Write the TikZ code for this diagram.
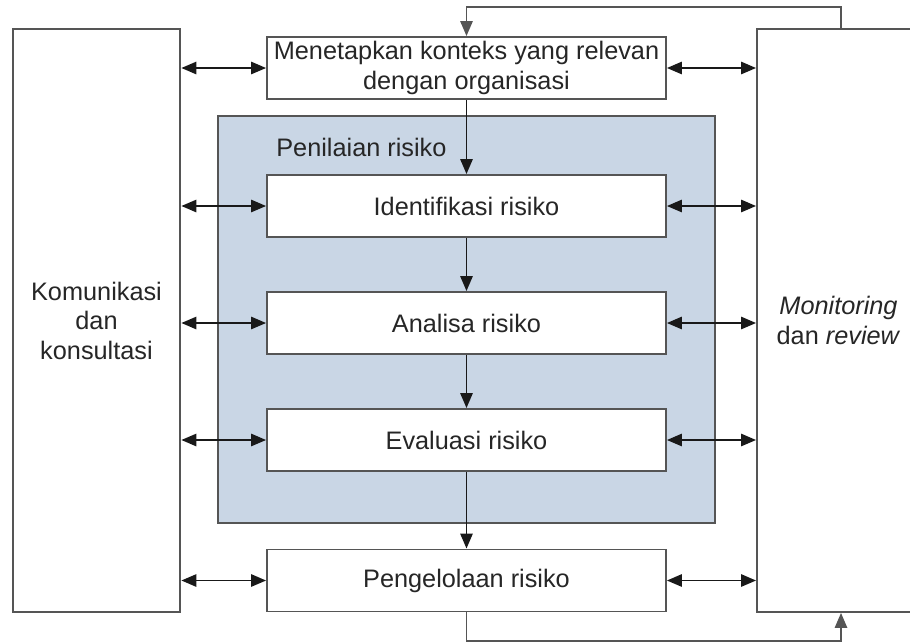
\documentclass[tikz,border=0pt]{standalone}
\usepackage{fontspec}
\setmainfont{Liberation Sans}
\usetikzlibrary{arrows.meta}
\usetikzlibrary{positioning}
\usepackage{xcolor}

\definecolor{areablue}{RGB}{201,214,229}
\definecolor{edgegray}{RGB}{85,85,85}

\begin{document}
\begin{tikzpicture}[x=0.02cm, y=-0.02cm,
    box/.style={draw=edgegray, line width=1.1pt, fill=white, inner sep=0pt,
        align=center, text=black!85, font=\fontsize{14.4}{16.8}\selectfont},
    stage/.style={box, minimum width=7.98cm, minimum height=1.24cm},
    side/.style={box, minimum height=11.66cm},
    flow/.style={-{Triangle[length=8.5pt, width=7pt]}, line width=1pt, black!90},
    both/.style={{Triangle[length=8.5pt, width=7pt]}-{Triangle[length=8.5pt, width=7pt]},
        line width=1pt, black!90}]

    % Page
    \clip (0,0) rectangle (910,643);

    % Side boxes
    \node[side, minimum width=3.34cm, line width=1.6pt] (komunikasi) at (96.5,320.5)
        {Komunikasi\\dan\\konsultasi};
    \node[side, minimum width=3.26cm] (monitoring) at (838.5,320.5)
        {\textit{Monitoring}\\dan \textit{review}};

    % Risk assessment area
    \node[draw=edgegray, line width=1.1pt, fill=areablue, inner sep=0pt,
        minimum width=9.94cm, minimum height=8.14cm] (penilaian) at (466.5,319.5) {};
    \node[anchor=west, inner sep=0pt, text=black!85, font=\fontsize{14.4}{16.8}\selectfont]
        (penilaianLabel) at (276,147) {Penilaian risiko};

    % Process steps
    \node[stage] (konteks) at (466.5,68) {Menetapkan konteks yang relevan\\dengan organisasi};
    \node[stage] (identifikasi) at (466.5,206) {Identifikasi risiko};
    \node[stage] (analisa) at (466.5,323) {Analisa risiko};
    \node[stage] (evaluasi) at (466.5,440) {Evaluasi risiko};
    \node[stage] (pengelolaan) at (466.5,580.5) {Pengelolaan risiko};

    % Main flow
    \draw[flow] (konteks) -- (identifikasi);
    \draw[flow] (identifikasi) -- (analisa);
    \draw[flow] (analisa) -- (evaluasi);
    \draw[flow] (evaluasi) -- (pengelolaan);

    % Links to the side boxes
    \foreach \step in {konteks,identifikasi,analisa,evaluasi,pengelolaan} {
        \draw[both] (komunikasi.east |- \step) -- (\step.west);
        \draw[both] (\step.east) -- (monitoring.west |- \step);
    }

    % Feedback loop
    \coordinate (loopTop) at (841,7);
    \coordinate (loopBottom) at (841,641);
    \draw[flow, draw=edgegray] (loopTop |- monitoring.north) -- (loopTop) -| (konteks.north);
    \draw[flow, draw=edgegray] (pengelolaan.south) |- (loopBottom) -- (loopBottom |- monitoring.south);
\end{tikzpicture}
\end{document}
